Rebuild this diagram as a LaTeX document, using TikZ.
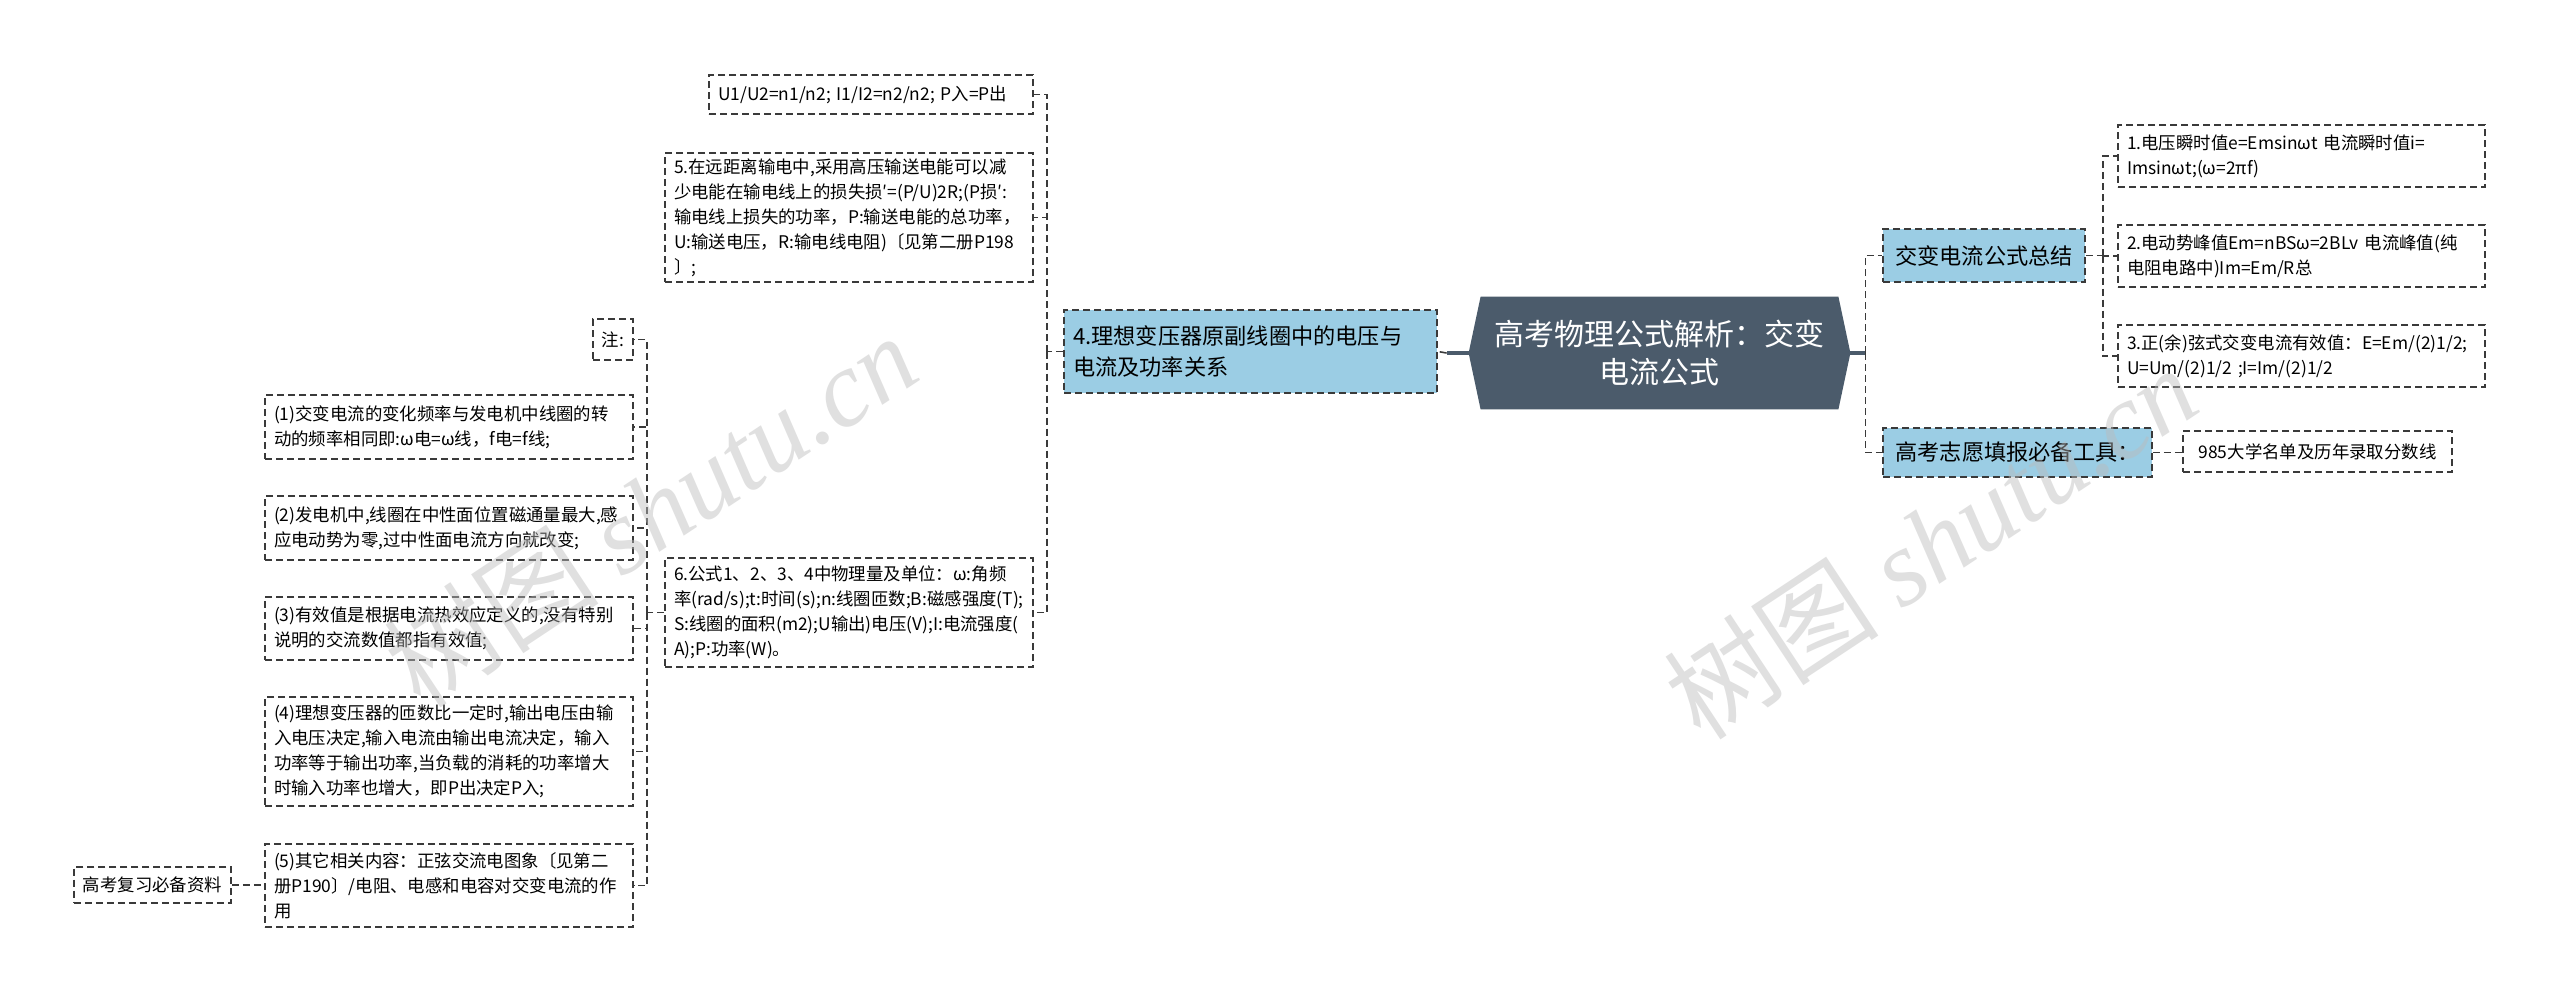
\documentclass[tikz,border=0pt]{standalone}
\usepackage{fontspec}
\setmainfont{Noto Sans CJK SC}
\newfontfamily\wmlatin{Liberation Serif}
\pgfdeclarelayer{bg}
\pgfsetlayers{bg,main}
\definecolor{linec}{HTML}{3A3A3A}
\definecolor{hexc}{HTML}{4B5B6B}
\definecolor{lblue}{RGB}{155,205,228}
\definecolor{wmc}{HTML}{BBBBBB}
\tikzset{
  box/.style={draw=linec, dash pattern=on 3.5pt off 2pt, line width=0.8pt, fill=white,
    inner xsep=4.5pt, inner ysep=0pt, align=left, anchor=center,
    font=\fontsize{8.7}{12.5}\selectfont},
  cbox/.style={box, align=center},
  bluebox/.style={box, fill=lblue, font=\fontsize{11.1}{15.5}\selectfont},
  conn/.style={draw=linec, dash pattern=on 3.5pt off 2pt, line width=0.8pt},
  mainconn/.style={draw=hexc, line width=1.6pt},
  wm/.style={text=wmc, opacity=0.45, rotate=33.5, inner sep=0pt}
}
\begin{document}
\begin{tikzpicture}[x=0.5pt,y=-0.5pt]
\useasboundingbox (0,0) rectangle (2560,1003);

% central node
\node[text=white, align=center, minimum width=190.5pt, minimum height=56pt, inner sep=0pt,
  font=\fontsize{15}{19}\selectfont] (center) at (1659.5,353) {高考物理公式解析：交变\\电流公式};
\begin{pgfonlayer}{bg}
\fill[white] (0,0) rectangle (2560,1003);
\fill[hexc] ([xshift=6pt]center.north west) -- ([xshift=-6pt]center.north east) -- (center.east)
  -- ([xshift=-6pt]center.south east) -- ([xshift=6pt]center.south west) -- (center.west) -- cycle;
\end{pgfonlayer}

% left main branch
\node[bluebox, text width=177.5pt, minimum height=41.5pt] (n4) at (1250.5,351.5)
  {4.理想变压器原副线圈中的电压与\\电流及功率关系};

\node[box, text width=153pt, minimum height=19.5pt] (u1) at (871,94.5)
  {U1/U2=n1/n2; I1/I2=n2/n2; P入=P出};
\node[box, text width=175pt, minimum height=64.5pt] (b5) at (849,217.5)
  {5.在远距离输电中,采用高压输送电能可以减\\少电能在输电线上的损失损′=(P/U)2R;(P损′:\\输电线上损失的功率，P:输送电能的总功率，\\U:输送电压，R:输电线电阻)〔见第二册P198\\〕;};
\node[box, text width=175pt, minimum height=54.5pt] (b6) at (849,612.5)
  {6.公式1、2、3、4中物理量及单位：ω:角频\\率(rad/s);t:时间(s);n:线圈匝数;B:磁感强度(T);\\S:线圈的面积(m2);U输出)电压(V);I:电流强度(\\A);P:功率(W)。};

\node[cbox, minimum width=20pt, minimum height=20.5pt, inner xsep=3pt] (zhu) at (613,339.5) {注:};
\node[box, text width=175pt, minimum height=32pt] (c1) at (449,427)
  {(1)交变电流的变化频率与发电机中线圈的转\\动的频率相同即:ω电=ω线，f电=f线;};
\node[box, text width=175pt, minimum height=32pt] (c2) at (449,528)
  {(2)发电机中,线圈在中性面位置磁通量最大,感\\应电动势为零,过中性面电流方向就改变;};
\node[box, text width=175pt, minimum height=31.5pt] (c3) at (449,628.5)
  {(3)有效值是根据电流热效应定义的,没有特别\\说明的交流数值都指有效值;};
\node[box, text width=175pt, minimum height=54.5pt] (c4) at (449,751.5)
  {(4)理想变压器的匝数比一定时,输出电压由输\\入电压决定,输入电流由输出电流决定，输入\\功率等于输出功率,当负载的消耗的功率增大\\时输入功率也增大，即P出决定P入;};
\node[box, text width=175pt, minimum height=41.5pt] (c5) at (449,885.5)
  {(5)其它相关内容：正弦交流电图象〔见第二\\册P190〕/电阻、电感和电容对交变电流的作\\用};
\node[cbox, minimum width=77.5pt, minimum height=18pt] (gkfx) at (152.5,885) {高考复习必备资料};

% right branches
\node[bluebox, align=center, minimum width=101pt, minimum height=26.5pt] (jb) at (1984,255.5) {交变电流公式总结};
\node[bluebox, align=center, minimum width=134.5pt, minimum height=24.5pt] (gz) at (2017.5,452.5) {高考志愿填报必备工具：};
\node[box, text width=174.5pt, minimum height=31pt] (r1) at (2301.5,156)
  {1.电压瞬时值e=Emsinωt 电流瞬时值i=\\Imsinωt;(ω=2πf)};
\node[box, text width=174.5pt, minimum height=31pt] (r2) at (2301.5,256)
  {2.电动势峰值Em=nBSω=2BLv 电流峰值(纯\\电阻电路中)Im=Em/R总};
\node[box, text width=174.5pt, minimum height=31pt] (r3) at (2301.5,356)
  {3.正(余)弦式交变电流有效值：E=Em/(2)1/2;\\U=Um/(2)1/2 ;I=Im/(2)1/2};
\node[cbox, minimum width=134.5pt, minimum height=20.5pt] (g985) at (2317.5,451.5) {985大学名单及历年录取分数线};

% connectors
\draw[mainconn] (center.west) -- ++(-22,0) coordinate (cL);
\draw[conn] (cL) -- (n4.east);
\draw[mainconn] (center.east) -- ++(15,0) coordinate (cR);
\draw[conn] (cR) |- (jb.west);
\draw[conn] (cR) |- (gz.west);

\draw[conn] (n4.west) -- ++(-16,0) coordinate (t4);
\draw[conn] (t4) |- (u1.east);
\draw[conn] (t4) |- (b5.east);
\draw[conn] (t4) |- (b6.east);

\draw[conn] (b6.west) -- ++(-17,0) coordinate (t6);
\draw[conn] (t6) |- (zhu.east);
\draw[conn] (t6) |- (c1.east);
\draw[conn] (t6) |- (c2.east);
\draw[conn] (t6) |- (c3.east);
\draw[conn] (t6) |- (c4.east);
\draw[conn] (t6) |- (c5.east);
\draw[conn] (gkfx.east) -- (gkfx.east -| c5.west);

\draw[conn] (jb.east) -- ++(17,0) coordinate (tj);
\draw[conn] (tj) |- (r1.west);
\draw[conn] (tj) |- (r2.west);
\draw[conn] (tj) |- (r3.west);
\draw[conn] (gz.east) -- (gz.east -| g985.west);

% watermarks
\node[wm] (wm1) at (650,510) {\fontsize{54}{58}\selectfont 树图 {\wmlatin\itshape shutu.cn}};
\node[wm] (wm2) at (1930,542) {\fontsize{54}{58}\selectfont 树图 {\wmlatin\itshape shutu.cn}};
\end{tikzpicture}
\end{document}
